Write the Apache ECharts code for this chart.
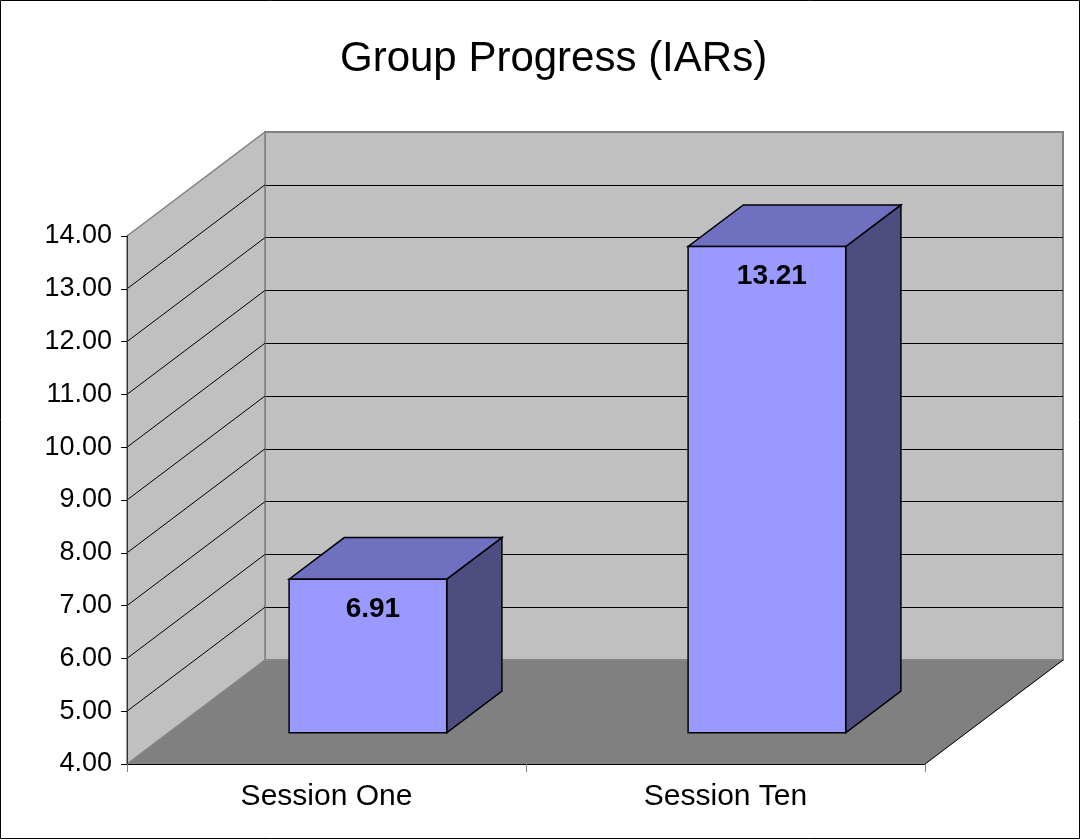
<!DOCTYPE html>
<html><head><meta charset="utf-8">
<script src="https://cdn.jsdelivr.net/npm/echarts@6/dist/echarts.min.js"></script>
<style>html,body{margin:0;padding:0;background:#fff}#c{width:1081px;height:840px}</style>
</head><body><div id="c"></div>
<script>
const chartTitle = 'Group Progress (IARs)';
const categories = ['Session One', 'Session Ten'];
const values = [6.91, 13.21];
const yMin = 4, yMax = 14, yStep = 1;

const FONT = '"Liberation Sans", Arial, sans-serif';
const FRONT = {left: 127, top: 236, width: 798, height: 528};
const BACK = {left: 265, top: 132, width: 798, height: 528};
const DX = BACK.left - FRONT.left, DY = BACK.top - FRONT.top;

const F0 = 0.30, FD = 0.40, BW = 0.395;

function wallsRender(params, api) {
  const cs = params.coordSys;
  const x0 = cs.x, x1 = cs.x + cs.width;
  const yB = api.coord([0, yMin])[1], yT = api.coord([0, yMax])[1];
  const children = [];
  children.push({type: 'polygon', shape: {points: [[x0, yT], [x0 + DX, yT + DY], [x0 + DX, yB + DY], [x0, yB]]},
    style: {fill: '#c0c0c0', stroke: '#808080', lineWidth: 1.5}});
  for (let k = 1; yMin + k * yStep < yMax; k++) {
    const y = api.coord([0, yMin + k * yStep])[1];
    children.push({type: 'line', shape: {x1: x0, y1: y, x2: x0 + DX, y2: y + DY}, style: {stroke: '#000', lineWidth: 1}});
  }
  children.push({type: 'polygon', shape: {points: [[x0, yB], [x1, yB], [x1 + DX, yB + DY], [x0 + DX, yB + DY]]},
    style: {fill: '#808080', stroke: '#8a8a8a', lineWidth: 1}});
  children.push({type: 'line', shape: {x1: x1, y1: yB, x2: x1 + DX, y2: yB + DY}, style: {stroke: '#000', lineWidth: 1}});
  return {type: 'group', children};
}

function barRender(params, api) {
  const i = api.value(0), v = api.value(1);
  const base = api.coord([i, yMin]), top = api.coord([i, v]);
  const band = api.size([1, 0])[0];
  const w = band * BW;
  const ox = F0 * DX, oy = F0 * DY, dx = FD * DX, dy = FD * DY;
  const xl = base[0] - w / 2 + ox, xr = xl + w;
  const yb = base[1] + oy, yt = top[1] + oy;
  const edge = {stroke: '#000', lineWidth: 1.5, lineJoin: 'miter'};
  return {type: 'group', children: [
    {type: 'polygon', shape: {points: [[xr, yt], [xr + dx, yt + dy], [xr + dx, yb + dy], [xr, yb]]}, style: Object.assign({fill: '#4d4d80'}, edge)},
    {type: 'polygon', shape: {points: [[xl, yt], [xr, yt], [xr + dx, yt + dy], [xl + dx, yt + dy]]}, style: Object.assign({fill: '#7070c0'}, edge)},
    {type: 'rect', shape: {x: xl, y: yt, width: w, height: yb - yt}, style: Object.assign({fill: '#9999ff'}, edge)},
    {type: 'text', x: (xl + xr) / 2 + 5, y: yt + 30, style: {text: v.toFixed(2), fill: '#000', font: 'bold 28px ' + FONT, align: 'center', verticalAlign: 'middle'}}
  ]};
}

const chart = echarts.init(document.getElementById('c'));
chart.setOption({
  backgroundColor: '#fff',
  animation: false,
  textStyle: {fontFamily: FONT},
  title: {text: chartTitle, left: 340, top: 38, padding: 0,
    textStyle: {fontFamily: FONT, fontSize: 42, fontWeight: 'normal', color: '#000'}},
  grid: [
    Object.assign({}, FRONT),
    Object.assign({show: true, backgroundColor: '#c0c0c0', borderColor: '#808080', borderWidth: 2}, BACK)
  ],
  xAxis: [
    {gridIndex: 0, type: 'category', data: categories, z: 5,
      axisLine: {lineStyle: {color: '#000', width: 1}},
      axisTick: {show: true, length: 8, lineStyle: {color: '#808080'}},
      axisLabel: {fontFamily: FONT, fontSize: 30, color: '#000', margin: 18},
      splitLine: {show: false}},
    {gridIndex: 1, type: 'category', data: categories, show: false}
  ],
  yAxis: [
    {gridIndex: 0, type: 'value', min: yMin, max: yMax, interval: yStep, z: 5,
      axisLine: {show: true, lineStyle: {color: '#333', width: 1}},
      axisTick: {show: true, length: 6, lineStyle: {color: '#000'}},
      axisLabel: {formatter: v => v.toFixed(2), fontFamily: FONT, fontSize: 27, color: '#000', margin: 15},
      splitLine: {show: false}},
    {gridIndex: 1, type: 'value', min: yMin, max: yMax, interval: yStep,
      axisLine: {show: false}, axisTick: {show: false}, axisLabel: {show: false},
      splitLine: {show: true, showMinLine: false, showMaxLine: false, lineStyle: {color: '#000', width: 1}}}
  ],
  series: [
    {type: 'custom', xAxisIndex: 0, yAxisIndex: 0, renderItem: wallsRender, data: [[0, yMin]], clip: false, silent: true, z: 1},
    {type: 'custom', xAxisIndex: 0, yAxisIndex: 0, renderItem: barRender, data: values.map((v, i) => [i, v]), clip: false, z: 3}
  ],
  graphic: [{type: 'rect', shape: {x: 0.5, y: 0.5, width: 1079, height: 838}, style: {fill: 'none', stroke: '#000', lineWidth: 1}, silent: true, z: 10}]
});
</script>
</body></html>
